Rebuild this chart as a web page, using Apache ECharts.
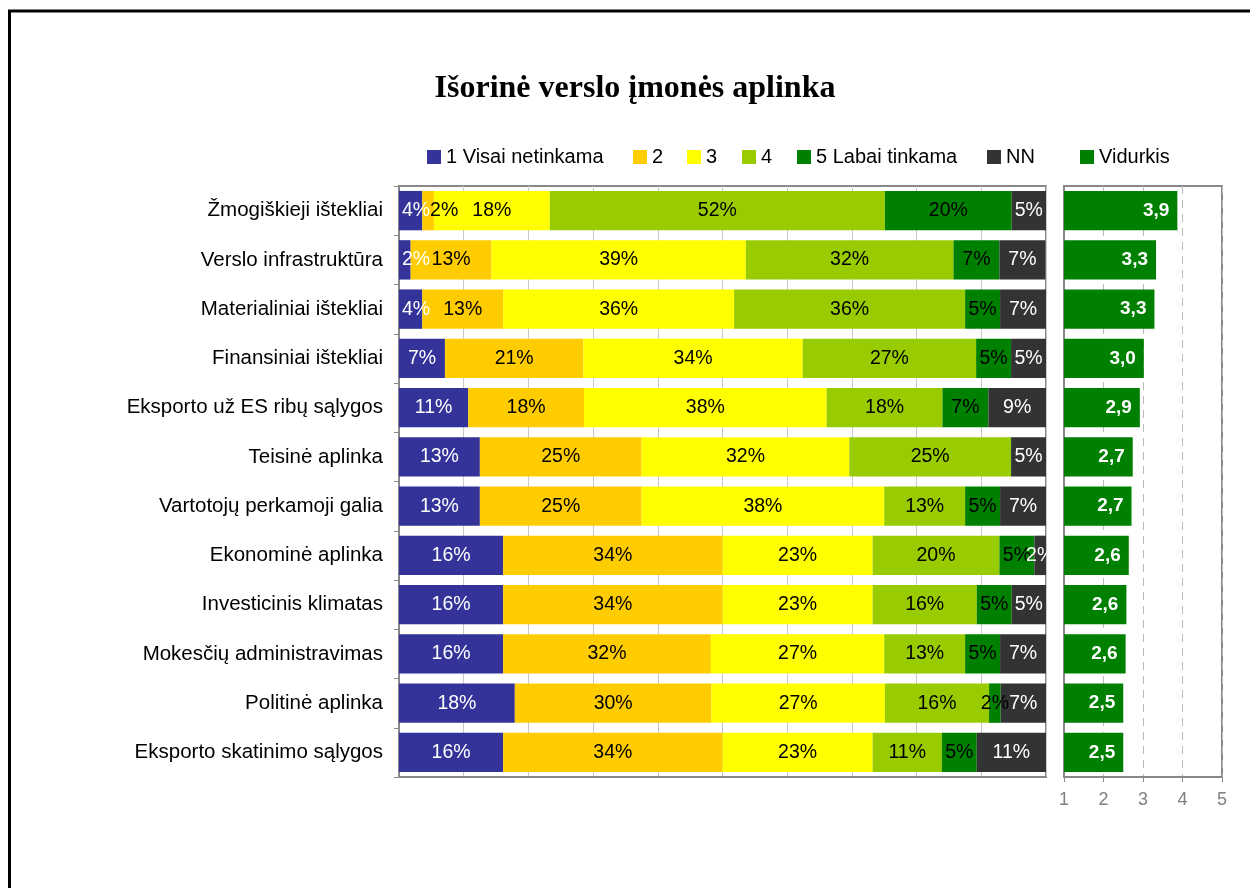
<!DOCTYPE html>
<html>
<head>
<meta charset="utf-8">
<script src="https://cdn.jsdelivr.net/npm/echarts@6/dist/echarts.min.js"></script>
<style>
html,body{margin:0;padding:0;background:#fff;}
#chart{width:1250px;height:888px;}
</style>
</head>
<body>
<div id="chart"></div>
<script>
const categories = [
  'Žmogiškieji ištekliai',
  'Verslo infrastruktūra',
  'Materialiniai ištekliai',
  'Finansiniai ištekliai',
  'Eksporto už ES ribų sąlygos',
  'Teisinė aplinka',
  'Vartotojų perkamoji galia',
  'Ekonominė aplinka',
  'Investicinis klimatas',
  'Mokesčių administravimas',
  'Politinė aplinka',
  'Eksporto skatinimo sąlygos'
];
const seriesNames = ['1 Visai netinkama', '2', '3', '4', '5 Labai tinkama', 'NN'];
const level1 = [3.6, 1.8, 3.6, 7.1, 10.7, 12.5, 12.5, 16.1, 16.1, 16.1, 17.9, 16.1];
const level2 = [1.8, 12.5, 12.5, 21.4, 17.9, 25.0, 25.0, 33.9, 33.9, 32.1, 30.4, 33.9];
const level3 = [17.9, 39.3, 35.7, 33.9, 37.5, 32.1, 37.5, 23.2, 23.2, 26.8, 26.8, 23.2];
const level4 = [51.8, 32.1, 35.7, 26.8, 17.9, 25.0, 12.5, 19.6, 16.1, 12.5, 16.1, 10.7];
const level5 = [19.6, 7.1, 5.4, 5.4, 7.1, 0, 5.4, 5.4, 5.4, 5.4, 1.8, 5.4];
const levelNN = [5.4, 7.1, 7.1, 5.4, 8.9, 5.4, 7.1, 1.8, 5.4, 7.1, 7.1, 10.7];
const averageName = 'Vidurkis';
const averages = [3.87, 3.33, 3.29, 3.02, 2.92, 2.74, 2.71, 2.64, 2.58, 2.56, 2.50, 2.50];
const avgTicks = [1, 2, 3, 4, 5];

const colors = ['#333399', '#FFCC00', '#FFFF00', '#99CC00', '#008000', '#333333'];
const labelColors = ['#ffffff', '#000000', '#000000', '#000000', '#000000', '#ffffff'];
const levels = [level1, level2, level3, level4, level5, levelNN];
const FONT = 'Liberation Sans, Arial, sans-serif';

const chart = echarts.init(document.getElementById('chart'), null, {renderer: 'canvas'});

const PLOT_LEFT = 399;

function layoutFor(i) {
  if (i === 0) {
    return function (p) {
      const r = p.labelRect;
      if (r.x < PLOT_LEFT + 3) {
        return {x: PLOT_LEFT + 3, y: r.y, align: 'left', verticalAlign: 'top'};
      }
    };
  }
  if (i === 1) {
    return function (p) {
      const r = p.labelRect;
      const b = p.rect;
      if (b && b.width < r.width && b.x < PLOT_LEFT + 40) {
        return {x: b.x + b.width / 2 + 2, y: r.y, align: 'left', verticalAlign: 'top'};
      }
    };
  }
  return undefined;
}

const stackSeries = levels.map((vals, i) => ({
  name: seriesNames[i],
  type: 'bar',
  stack: 'total',
  xAxisIndex: 0,
  yAxisIndex: 0,
  barCategoryGap: '20%',
  data: vals,
  itemStyle: {color: colors[i]},
  label: {
    show: true,
    position: 'inside',
    color: labelColors[i],
    fontFamily: FONT,
    fontSize: 19.5,
    formatter: p => p.value > 0 ? Math.round(p.value) + '%' : ''
  },
  labelLayout: layoutFor(i),
  emphasis: {disabled: true}
}));

const legendLefts = [422, 628, 682, 737, 792, 982];
const legendStyle = {fontFamily: FONT, fontSize: 20, color: '#000'};
const legends = seriesNames.map((n, i) => ({
  data: [n],
  left: legendLefts[i],
  top: 142,
  itemWidth: 14,
  itemHeight: 14,
  icon: 'rect',
  textStyle: legendStyle,
  selectedMode: false
}));
legends.push({
  data: [averageName],
  left: 1075,
  top: 142,
  itemWidth: 14,
  itemHeight: 14,
  icon: 'rect',
  textStyle: legendStyle,
  selectedMode: false
});

const option = {
  animation: false,
  backgroundColor: '#fff',
  title: {
    text: 'Išorinė verslo įmonės aplinka',
    left: 630,
    textAlign: 'center',
    top: 68,
    textStyle: {fontFamily: 'Liberation Serif, Times New Roman, serif', fontWeight: 'bold', fontSize: 32, color: '#000'}
  },
  legend: legends,
  graphic: [{
    type: 'rect',
    shape: {x: 9.5, y: 11, width: 1400, height: 1000},
    style: {fill: 'none', stroke: '#000', lineWidth: 3},
    silent: true
  }],
  grid: [
    {left: 399, top: 186, width: 647, height: 591, show: true, borderColor: '#888', borderWidth: 2, backgroundColor: 'transparent'},
    {left: 1064, top: 186, width: 158, height: 591, show: true, borderColor: '#888', borderWidth: 2, backgroundColor: 'transparent'}
  ],
  xAxis: [
    {
      gridIndex: 0, type: 'value', min: 0, max: 100, interval: 10,
      axisLabel: {show: false},
      axisTick: {show: false},
      axisLine: {show: true, lineStyle: {color: '#888', width: 2}},
      splitLine: {show: true, lineStyle: {color: '#c8c8c8', width: 1}}
    },
    {
      gridIndex: 1, type: 'value', min: avgTicks[0], max: avgTicks[avgTicks.length - 1], interval: 1,
      axisLabel: {show: true, color: '#808080', fontFamily: FONT, fontSize: 18, margin: 14},
      axisTick: {show: true, length: 5, lineStyle: {color: '#888'}},
      axisLine: {show: true, lineStyle: {color: '#888', width: 2}},
      splitLine: {show: true, lineStyle: {color: '#bbbbbb', width: 1, type: [8, 6]}}
    }
  ],
  yAxis: [
    {
      gridIndex: 0, type: 'category', data: categories, inverse: true,
      axisLine: {show: true, lineStyle: {color: '#888', width: 2}},
      axisTick: {show: true, length: 5, lineStyle: {color: '#888'}},
      axisLabel: {color: '#000', fontFamily: FONT, fontSize: 20.5, margin: 16}
    },
    {
      gridIndex: 1, type: 'category', data: categories, inverse: true,
      axisLine: {show: true, lineStyle: {color: '#888', width: 2}},
      axisTick: {show: false},
      axisLabel: {show: false}
    }
  ],
  series: stackSeries.concat([{
    name: averageName,
    type: 'bar',
    xAxisIndex: 1,
    yAxisIndex: 1,
    barCategoryGap: '20%',
    data: averages,
    itemStyle: {color: '#008000'},
    label: {
      show: true,
      position: 'insideRight',
      distance: 8,
      color: '#fff',
      fontFamily: FONT,
      fontWeight: 'bold',
      fontSize: 19,
      formatter: p => p.value.toFixed(1).replace('.', ',')
    },
    emphasis: {disabled: true}
  }])
};
chart.setOption(option);
</script>
</body>
</html>
